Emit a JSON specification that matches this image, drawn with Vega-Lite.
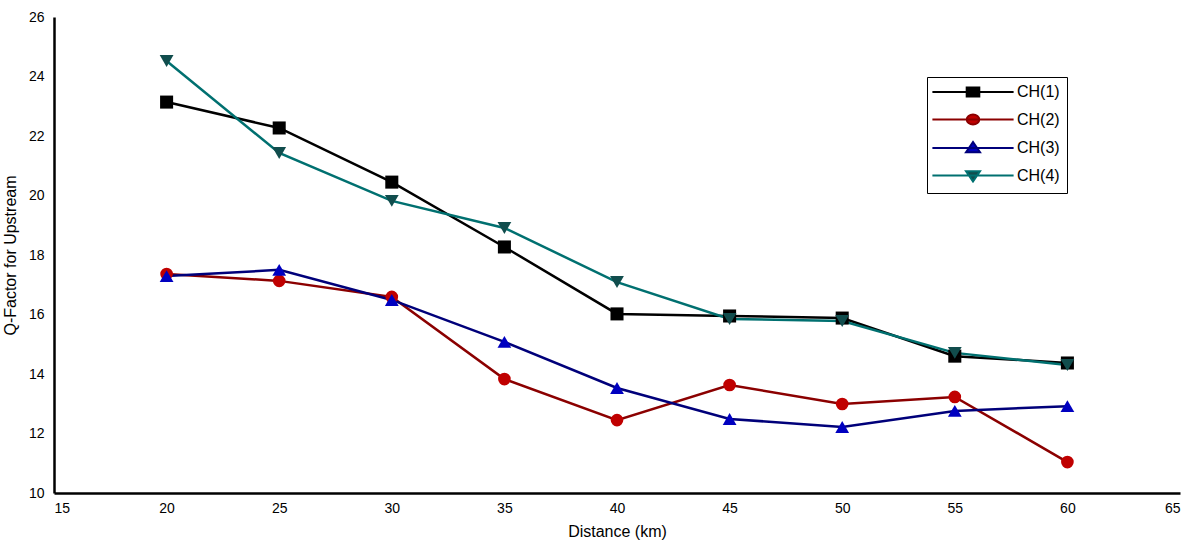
{
  "$schema": "https://vega.github.io/schema/vega-lite/v6.json",
  "autosize": "none",
  "width": 1126,
  "height": 476,
  "padding": {"left": 54, "top": 17, "right": 14, "bottom": 57},
  "background": "white",
  "config": {
    "view": {"stroke": null},
    "font": "Liberation Sans",
    "axis": {"labelFont": "Liberation Sans", "titleFont": "Liberation Sans", "labelColor": "black", "titleColor": "black", "titleFontWeight": "normal", "labelFontSize": 14, "titleFontSize": 16, "domainColor": "black", "domainWidth": 2.5, "ticks": false, "grid": false}
  },
  "data": {"values": [
    {"d": 20, "q": 23.14, "s": "CH(1)"}, {"d": 25, "q": 22.27, "s": "CH(1)"}, {"d": 30, "q": 20.45, "s": "CH(1)"}, {"d": 35, "q": 18.27, "s": "CH(1)"}, {"d": 40, "q": 16.02, "s": "CH(1)"}, {"d": 45, "q": 15.95, "s": "CH(1)"}, {"d": 50, "q": 15.88, "s": "CH(1)"}, {"d": 55, "q": 14.6, "s": "CH(1)"}, {"d": 60, "q": 14.37, "s": "CH(1)"},
    {"d": 20, "q": 17.36, "s": "CH(2)"}, {"d": 25, "q": 17.13, "s": "CH(2)"}, {"d": 30, "q": 16.59, "s": "CH(2)"}, {"d": 35, "q": 13.83, "s": "CH(2)"}, {"d": 40, "q": 12.45, "s": "CH(2)"}, {"d": 45, "q": 13.63, "s": "CH(2)"}, {"d": 50, "q": 12.99, "s": "CH(2)"}, {"d": 55, "q": 13.23, "s": "CH(2)"}, {"d": 60, "q": 11.04, "s": "CH(2)"},
    {"d": 20, "q": 17.29, "s": "CH(3)"}, {"d": 25, "q": 17.5, "s": "CH(3)"}, {"d": 30, "q": 16.49, "s": "CH(3)"}, {"d": 35, "q": 15.08, "s": "CH(3)"}, {"d": 40, "q": 13.53, "s": "CH(3)"}, {"d": 45, "q": 12.49, "s": "CH(3)"}, {"d": 50, "q": 12.22, "s": "CH(3)"}, {"d": 55, "q": 12.76, "s": "CH(3)"}, {"d": 60, "q": 12.92, "s": "CH(3)"},
    {"d": 20, "q": 24.52, "s": "CH(4)"}, {"d": 25, "q": 21.43, "s": "CH(4)"}, {"d": 30, "q": 19.82, "s": "CH(4)"}, {"d": 35, "q": 18.91, "s": "CH(4)"}, {"d": 40, "q": 17.09, "s": "CH(4)"}, {"d": 45, "q": 15.85, "s": "CH(4)"}, {"d": 50, "q": 15.78, "s": "CH(4)"}, {"d": 55, "q": 14.71, "s": "CH(4)"}, {"d": 60, "q": 14.3, "s": "CH(4)"}
  ]},
  "encoding": {
    "x": {"field": "d", "type": "quantitative", "title": "Distance (km)", "scale": {"domain": [15, 65], "nice": false, "zero": false}, "axis": {"values": [15, 20, 25, 30, 35, 40, 45, 50, 55, 60, 65], "labelPadding": 8, "titlePadding": 8}},
    "y": {"field": "q", "type": "quantitative", "title": "Q-Factor for Upstream", "scale": {"domain": [10, 26], "nice": false, "zero": false}, "axis": {"values": [10, 12, 14, 16, 18, 20, 22, 24, 26], "labelPadding": 10, "titlePadding": 10}}
  },
  "layer": [
    {
      "mark": {"type": "line", "strokeWidth": 2.5},
      "encoding": {
        "stroke": {"field": "s", "type": "nominal", "scale": {"domain": ["CH(1)", "CH(2)", "CH(3)", "CH(4)"], "range": ["#000000", "#8B0000", "#00007A", "#007070"]},
          "legend": {"title": null, "orient": "none", "legendX": 873, "legendY": 60, "padding": 7, "strokeColor": "black", "fillColor": "white", "labelFont": "Liberation Sans", "labelFontSize": 16, "labelColor": "black", "labelOffset": 67, "rowPadding": 9.5,
            "encode": {"symbols": {"update": {
              "x": {"value": 39},
              "size": {"value": 196},
              "strokeWidth": {"value": 2},
              "stroke": {"signal": "datum.value === 'CH(1)' ? '#000000' : datum.value === 'CH(2)' ? '#8B0000' : datum.value === 'CH(3)' ? '#00007A' : '#007070'"},
              "shape": {"signal": "datum.value === 'CH(1)' ? 'M-5.8,0H5.8M-0.9,-0.65H0.9V0.65H-0.9Z' : datum.value === 'CH(2)' ? 'M-5.8,0H5.8M-0.9,0A0.9,0.7 0 1,0 0.9,0A0.9,0.7 0 1,0 -0.9,0Z' : datum.value === 'CH(3)' ? 'M-5.8,0H5.8M-1,0.6L0,-0.85L1,0.6Z' : 'M-5.8,0H5.8M-1,-0.6L0,0.85L1,-0.6Z'"},
              "fill": {"signal": "datum.value === 'CH(1)' ? '#000000' : datum.value === 'CH(2)' ? '#C00000' : datum.value === 'CH(3)' ? '#0000C0' : '#114D4D'"}
            }}}}
        }
      }
    },
    {"transform": [{"filter": "datum.s === 'CH(1)'"}], "mark": {"type": "point", "filled": true, "opacity": 1, "size": 170, "shape": "square", "color": "#000000"}},
    {"transform": [{"filter": "datum.s === 'CH(2)'"}], "mark": {"type": "point", "filled": true, "opacity": 1, "size": 160, "shape": "circle", "color": "#C00000"}},
    {"transform": [{"filter": "datum.s === 'CH(3)'"}], "mark": {"type": "point", "filled": true, "opacity": 1, "size": 190, "shape": "triangle-up", "color": "#0000C0"}},
    {"transform": [{"filter": "datum.s === 'CH(4)'"}], "mark": {"type": "point", "filled": true, "opacity": 1, "size": 190, "shape": "triangle-down", "color": "#114D4D"}}
  ]
}
